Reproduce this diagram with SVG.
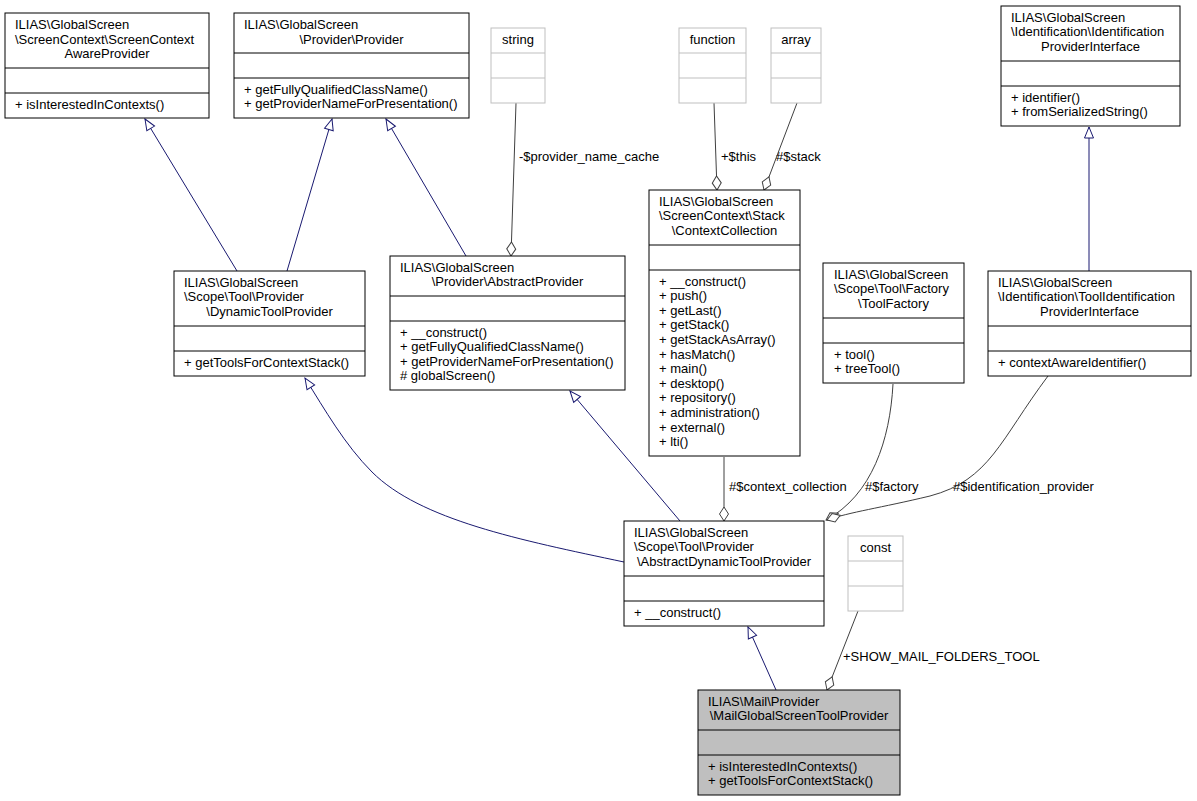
<svg xmlns="http://www.w3.org/2000/svg" width="1197" height="801" viewBox="0 0 1197 801">
<style>
text{font-family:"Liberation Sans",Arial,Helvetica,sans-serif;font-size:13px;fill:#000}
.c{text-anchor:middle}
.box{fill:#fff;stroke:#000;stroke-width:1}
.gbox{fill:#fff;stroke:#bfbfbf;stroke-width:1}
.sel{fill:#bfbfbf;stroke:#000;stroke-width:1}
.dv{stroke:#000;stroke-width:1}
.gdv{stroke:#bfbfbf;stroke-width:1}
.inh{fill:none;stroke:#191970;stroke-width:1;marker-end:url(#tri)}
.use{fill:none;stroke:#404040;stroke-width:1;marker-end:url(#dia)}
</style>
<defs>
<marker id="tri" markerUnits="userSpaceOnUse" viewBox="-13 -7 14 14" refX="0" refY="0" markerWidth="14" markerHeight="14" orient="auto">
<path d="M0,0 L-11,-4.5 L-11,4.5 Z" fill="#fff" stroke="#191970" stroke-width="1"/>
</marker>
<marker id="dia" markerUnits="userSpaceOnUse" viewBox="-16 -7 17 14" refX="0" refY="0" markerWidth="17" markerHeight="14" orient="auto">
<path d="M0,0 L-7,-4.5 L-14,0 L-7,4.5 Z" fill="#fff" stroke="#404040" stroke-width="1"/>
</marker>
</defs>
<rect width="1197" height="801" fill="#fff"/>

<g id="connectors">
<path class="inh" d="M237,271 L145,119"/>
<path class="inh" d="M287,271 L332,119"/>
<path class="inh" d="M466,256 L386,119"/>
<path class="use" d="M516,103 L511,256"/>
<text x="519" y="161">-$provider_name_cache</text>
<path class="use" d="M714,103 L717,190"/>
<text x="721" y="161">+$this</text>
<path class="use" d="M797,103 L764,190"/>
<text x="776" y="161">#$stack</text>
<path class="inh" d="M1089,271 L1089,127"/>
<path class="inh" d="M624,562 C520,540 420,520 372,472 C345,445 325,410 305,378"/>
<path class="inh" d="M680,521 L570,391"/>
<path class="use" d="M724,457 L724,521"/>
<text x="729" y="491">#$context_collection</text>
<path class="use" d="M893,384 C890,440 872,495 826,520"/>
<text x="865" y="491">#$factory</text>
<path class="use" d="M1048,376 C1000,440 990,480 930,496 C880,508 850,512 827,520"/>
<text x="953" y="491">#$identification_provider</text>
<path class="inh" d="M776,690 L748,627"/>
<path class="use" d="M858,611 L827,690"/>
<text x="843" y="661">+SHOW_MAIL_FOLDERS_TOOL</text>
</g>

<g id="node-screencontextawareprovider">
<rect class="box" x="5" y="13" width="204" height="105"/>
<line class="dv" x1="5" y1="68" x2="209" y2="68"/>
<line class="dv" x1="5" y1="93" x2="209" y2="93"/>
<text x="15" y="29">ILIAS\GlobalScreen</text>
<text x="15" y="43.5">\ScreenContext\ScreenContext</text>
<text class="c" x="107" y="58">AwareProvider</text>
<text x="15" y="108.5">+ isInterestedInContexts()</text>
</g>

<g id="node-provider">
<rect class="box" x="234" y="13" width="235" height="105"/>
<line class="dv" x1="234" y1="53" x2="469" y2="53"/>
<line class="dv" x1="234" y1="78" x2="469" y2="78"/>
<text x="244" y="29">ILIAS\GlobalScreen</text>
<text class="c" x="351.5" y="43.5">\Provider\Provider</text>
<text x="244" y="93.5">+ getFullyQualifiedClassName()</text>
<text x="244" y="108">+ getProviderNameForPresentation()</text>
</g>

<g id="node-string">
<rect class="gbox" x="491" y="28" width="54" height="75"/>
<line class="gdv" x1="491" y1="53" x2="545" y2="53"/>
<line class="gdv" x1="491" y1="78" x2="545" y2="78"/>
<text class="c" x="518" y="43.5">string</text>
</g>

<g id="node-function">
<rect class="gbox" x="679" y="28" width="67" height="75"/>
<line class="gdv" x1="679" y1="53" x2="746" y2="53"/>
<line class="gdv" x1="679" y1="78" x2="746" y2="78"/>
<text class="c" x="712.5" y="43.5">function</text>
</g>

<g id="node-array">
<rect class="gbox" x="771" y="28" width="50" height="75"/>
<line class="gdv" x1="771" y1="53" x2="821" y2="53"/>
<line class="gdv" x1="771" y1="78" x2="821" y2="78"/>
<text class="c" x="796" y="43.5">array</text>
</g>

<g id="node-identificationproviderinterface">
<rect class="box" x="1001" y="6" width="179" height="120"/>
<line class="dv" x1="1001" y1="61" x2="1180" y2="61"/>
<line class="dv" x1="1001" y1="86" x2="1180" y2="86"/>
<text x="1011" y="21.5">ILIAS\GlobalScreen</text>
<text x="1011" y="36">\Identification\Identification</text>
<text class="c" x="1090.5" y="50.5">ProviderInterface</text>
<text x="1011" y="101.5">+ identifier()</text>
<text x="1011" y="116">+ fromSerializedString()</text>
</g>

<g id="node-dynamictoolprovider">
<rect class="box" x="174" y="271" width="191" height="105"/>
<line class="dv" x1="174" y1="326" x2="365" y2="326"/>
<line class="dv" x1="174" y1="351" x2="365" y2="351"/>
<text x="184" y="286.5">ILIAS\GlobalScreen</text>
<text x="184" y="301">\Scope\Tool\Provider</text>
<text class="c" x="269.5" y="315.5">\DynamicToolProvider</text>
<text x="184" y="366.5">+ getToolsForContextStack()</text>
</g>

<g id="node-abstractprovider">
<rect class="box" x="390" y="256" width="235" height="134"/>
<line class="dv" x1="390" y1="296" x2="625" y2="296"/>
<line class="dv" x1="390" y1="321" x2="625" y2="321"/>
<text x="400" y="271.5">ILIAS\GlobalScreen</text>
<text class="c" x="507.5" y="286">\Provider\AbstractProvider</text>
<text x="400" y="336.5">+ __construct()</text>
<text x="400" y="351">+ getFullyQualifiedClassName()</text>
<text x="400" y="365.5">+ getProviderNameForPresentation()</text>
<text x="400" y="380"># globalScreen()</text>
</g>

<g id="node-contextcollection">
<rect class="box" x="649" y="190" width="151" height="266"/>
<line class="dv" x1="649" y1="245" x2="800" y2="245"/>
<line class="dv" x1="649" y1="270" x2="800" y2="270"/>
<text x="659" y="205.5">ILIAS\GlobalScreen</text>
<text x="659" y="220">\ScreenContext\Stack</text>
<text class="c" x="724.5" y="234.5">\ContextCollection</text>
<text x="659" y="285.5">+ __construct()</text>
<text x="659" y="300.1">+ push()</text>
<text x="659" y="314.7">+ getLast()</text>
<text x="659" y="329.3">+ getStack()</text>
<text x="659" y="343.9">+ getStackAsArray()</text>
<text x="659" y="358.5">+ hasMatch()</text>
<text x="659" y="373.1">+ main()</text>
<text x="659" y="387.7">+ desktop()</text>
<text x="659" y="402.3">+ repository()</text>
<text x="659" y="416.9">+ administration()</text>
<text x="659" y="431.5">+ external()</text>
<text x="659" y="446.1">+ lti()</text>
</g>

<g id="node-toolfactory">
<rect class="box" x="823" y="263" width="141" height="120"/>
<line class="dv" x1="823" y1="318" x2="964" y2="318"/>
<line class="dv" x1="823" y1="343" x2="964" y2="343"/>
<text x="834" y="278.5">ILIAS\GlobalScreen</text>
<text x="834" y="293">\Scope\Tool\Factory</text>
<text class="c" x="893.5" y="307.5">\ToolFactory</text>
<text x="834" y="358.5">+ tool()</text>
<text x="834" y="373">+ treeTool()</text>
</g>

<g id="node-toolidentificationproviderinterface">
<rect class="box" x="988" y="271" width="203" height="105"/>
<line class="dv" x1="988" y1="326" x2="1191" y2="326"/>
<line class="dv" x1="988" y1="351" x2="1191" y2="351"/>
<text x="998" y="286.5">ILIAS\GlobalScreen</text>
<text x="998" y="301">\Identification\ToolIdentification</text>
<text class="c" x="1089.5" y="315.5">ProviderInterface</text>
<text x="998" y="366.5">+ contextAwareIdentifier()</text>
</g>

<g id="node-abstractdynamictoolprovider">
<rect class="box" x="624" y="521" width="200" height="105"/>
<line class="dv" x1="624" y1="576" x2="824" y2="576"/>
<line class="dv" x1="624" y1="601" x2="824" y2="601"/>
<text x="634" y="536.5">ILIAS\GlobalScreen</text>
<text x="634" y="551">\Scope\Tool\Provider</text>
<text class="c" x="724" y="565.5">\AbstractDynamicToolProvider</text>
<text x="634" y="616.5">+ __construct()</text>
</g>

<g id="node-const">
<rect class="gbox" x="848" y="536" width="55" height="75"/>
<line class="gdv" x1="848" y1="561" x2="903" y2="561"/>
<line class="gdv" x1="848" y1="586" x2="903" y2="586"/>
<text class="c" x="875.5" y="551.5">const</text>
</g>

<g id="node-mailglobalscreentoolprovider">
<rect class="sel" x="698" y="690" width="202" height="105"/>
<line class="dv" x1="698" y1="730" x2="900" y2="730"/>
<line class="dv" x1="698" y1="755" x2="900" y2="755"/>
<text x="708" y="705.5">ILIAS\Mail\Provider</text>
<text class="c" x="799" y="720">\MailGlobalScreenToolProvider</text>
<text x="708" y="770.5">+ isInterestedInContexts()</text>
<text x="708" y="785">+ getToolsForContextStack()</text>
</g>
</svg>
